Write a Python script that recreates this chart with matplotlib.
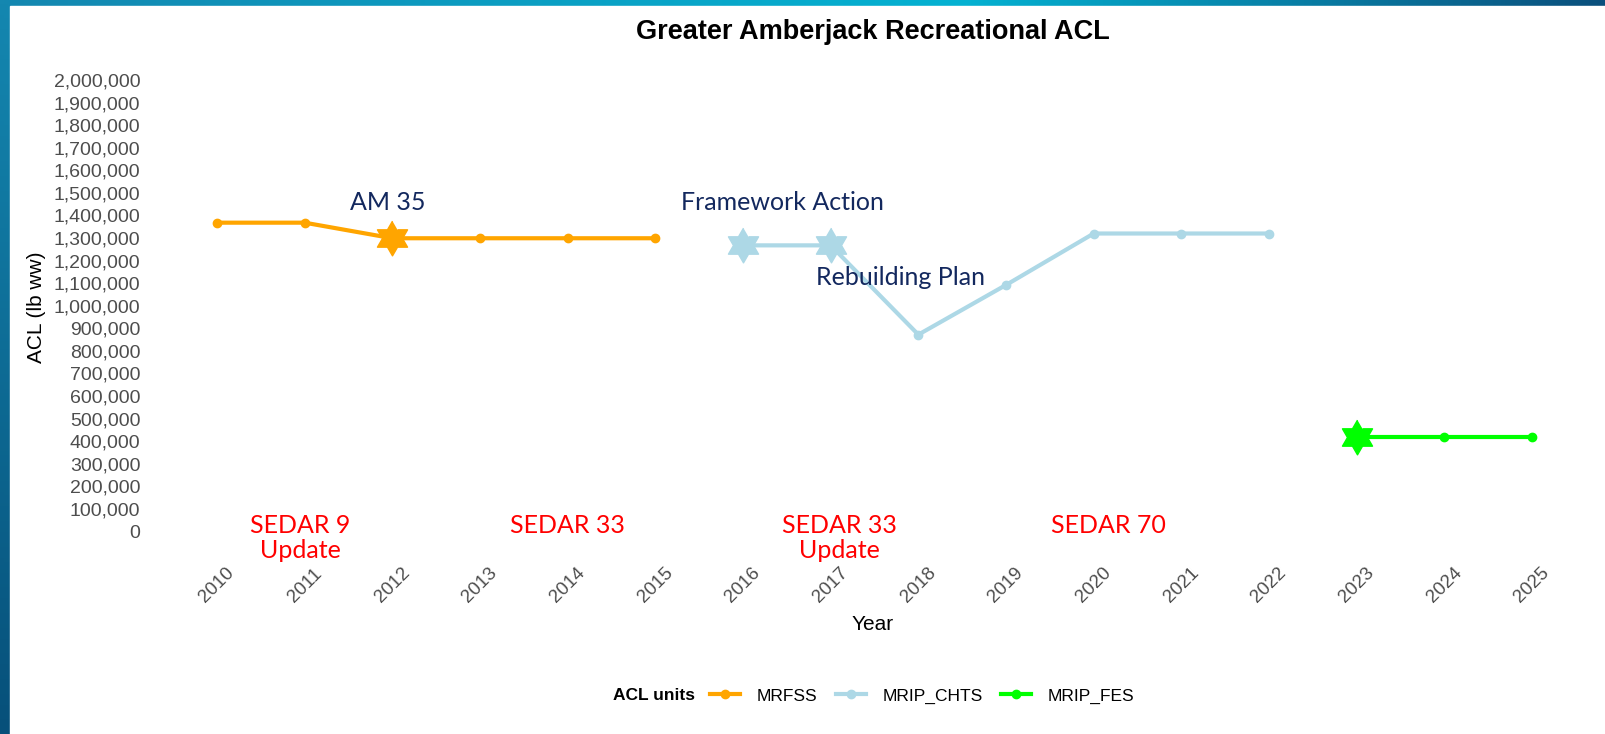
import numpy as np
import matplotlib
matplotlib.use("Agg")
import matplotlib.pyplot as plt
from matplotlib.patches import Rectangle
from matplotlib.colors import to_rgb

# -----------------------------
# Data
# -----------------------------
mrfss_years = [2010, 2011, 2012, 2013, 2014, 2015]
mrfss_acl = [1368000, 1368000, 1299000, 1299000, 1299000, 1299000]

chts_years = [2016, 2017, 2018, 2019, 2020, 2021, 2022]
chts_acl = [1267500, 1267500, 872000, 1092000, 1320000, 1320000, 1320000]

fes_years = [2023, 2024, 2025]
fes_acl = [418000, 418000, 418000]

# years where a new ACL was set (star markers)
mrfss_star = [2012]
chts_star = [2016, 2017]
fes_star = [2023]

action_labels = ["AM 35", "Framework Action", "Rebuilding Plan"]
action_x = [2011.95, 2016.45, 2017.8]
action_y = [1456000, 1456000, 1126000]

sedar_labels = ["SEDAR 9\nUpdate", "SEDAR 33", "SEDAR 33\nUpdate", "SEDAR 70"]
sedar_x = [2010.95, 2014.0, 2017.1, 2020.17]

year_ticks = list(range(2010, 2026))
acl_ticks = list(range(0, 2000001, 100000))

series = [
    ("MRFSS", mrfss_years, mrfss_acl, mrfss_star, "#FFA500"),
    ("MRIP_CHTS", chts_years, chts_acl, chts_star, "#ADD8E6"),
    ("MRIP_FES", fes_years, fes_acl, fes_star, "#00FF00"),
]

W, H = 1605, 734
axis_font = "Liberation Sans"
note_font = "Lato"
grey = "#4D4D4D"
navy = "#13285E"

# six-pointed star (two overlapping triangles) as a marker shape
ang = np.deg2rad(90 + 30 * np.arange(12))
rad = np.where(np.arange(12) % 2 == 0, 1.0, 1 / np.sqrt(3))
hexagram = np.column_stack([rad * np.cos(ang), rad * np.sin(ang)])

fig = plt.figure(figsize=(W / 100, H / 100), dpi=100)

# -----------------------------
# Slide background (blue border, white panel)
# -----------------------------
bg = fig.add_axes([0, 0, 1, 1])
gx = np.linspace(0, 1, 400)[None, :, None]
gy = np.linspace(0, 1, 200)[:, None, None]
c_left = np.array(to_rgb("#1487b0"))
c_mid = np.array(to_rgb("#04b2d2"))
c_right = np.array(to_rgb("#0b4f7c"))
c_bottom = np.array(to_rgb("#07507a"))
top_row = np.where(gx < 0.6,
                   c_left + (c_mid - c_left) * (gx / 0.6),
                   c_mid + (c_right - c_mid) * ((gx - 0.6) / 0.4))
grad = top_row * (1 - gy) + c_bottom * gy
bg.imshow(grad, extent=[0, W, H, 0], aspect="auto")
bg.add_patch(Rectangle((10, 6), W - 10, H - 6, color="white"))
bg.set_xlim(0, W)
bg.set_ylim(H, 0)
bg.axis("off")

# -----------------------------
# Chart
# -----------------------------
ax = fig.add_axes([150 / W, 1 - 545 / H, 1420 / W, 475 / H])
ax.patch.set_alpha(0)

for name, yrs, vals, stars, col in series:
    ax.plot(yrs, vals, color=col, lw=3, marker="o", ms=6, label=name)
    star_vals = [vals[yrs.index(s)] for s in stars]
    ax.plot(stars, star_vals, ls="none", marker=hexagram, ms=25, color=col)

for lab, x, y in zip(action_labels, action_x, action_y):
    ax.text(x, y, lab, ha="center", va="center", color=navy,
            fontsize=18, family=note_font)

for lab, x in zip(sedar_labels, sedar_x):
    ax.text(x, 77500, lab, ha="center", va="top", color="red",
            fontsize=18, family=note_font, linespacing=1.1, clip_on=False)

ax.set_xlim(2009.236, 2025.433)
ax.set_ylim(-59800, 2044300)
ax.set_xticks(year_ticks)
ax.set_xticklabels([str(y) for y in year_ticks], rotation=45,
                   ha="center", va="center", family=axis_font,
                   fontsize=13.5, color=grey)
ax.set_yticks(acl_ticks)
ax.set_yticklabels([f"{v:,}" for v in acl_ticks], family=axis_font,
                   fontsize=14, color=grey)
ax.tick_params(axis="x", length=0, pad=29)
ax.tick_params(axis="y", length=0, pad=7)
for s in ax.spines.values():
    s.set_visible(False)

fig.text(873 / W, 1 - 624 / H, "Year", ha="center", va="center",
         family=axis_font, fontsize=15)
fig.text(37 / W, 1 - 307 / H, "ACL (lb ww)", ha="center", va="center",
         rotation=90, family=axis_font, fontsize=15)
fig.text(873 / W, 1 - 32 / H, "Greater Amberjack Recreational ACL",
         ha="center", va="center", family=axis_font, fontsize=19.5,
         fontweight="bold")

# legend along the bottom
fig.text(613 / W, 1 - 696 / H, "ACL units", ha="left", va="center",
         family=axis_font, fontsize=12.5, fontweight="bold")
fig.legend(loc="center left", bbox_to_anchor=(710 / W, 1 - 696 / H),
           ncol=3, frameon=False, borderpad=0, borderaxespad=0,
           handlelength=1.73, handletextpad=0.98, columnspacing=1.03,
           prop={"family": axis_font, "size": 12.5})

fig.savefig("out.png", dpi=100)
